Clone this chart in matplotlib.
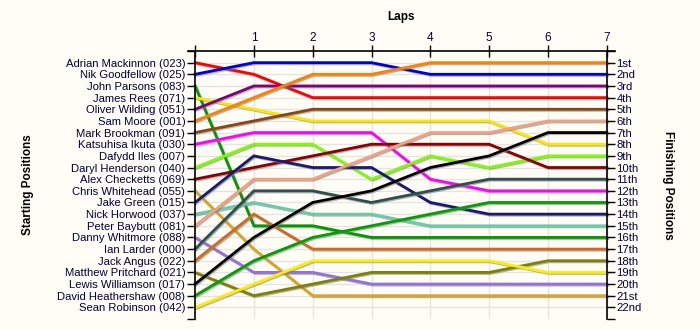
import matplotlib
matplotlib.use("Agg")
import matplotlib.pyplot as plt
import matplotlib.patheffects as pe
import numpy as np

plt.rcParams['font.family'] = ['Liberation Sans', 'DejaVu Sans']

laps = [0, 1, 2, 3, 4, 5, 6, 7]

drivers = ['Adrian Mackinnon (023)', 'Nik Goodfellow (025)', 'John Parsons (083)',
           'James Rees (071)', 'Oliver Wilding (051)', 'Sam Moore (001)',
           'Mark Brookman (091)', 'Katsuhisa Ikuta (030)', 'Dafydd Iles (007)',
           'Daryl Henderson (040)', 'Alex Checketts (069)', 'Chris Whitehead (055)',
           'Jake Green (015)', 'Nick Horwood (037)', 'Peter Baybutt (081)',
           'Danny Whitmore (088)', 'Ian Larder (000)', 'Jack Angus (022)',
           'Matthew Pritchard (021)', 'Lewis Williamson (017)',
           'David Heathershaw (008)', 'Sean Robinson (042)']

finish_labels = ['1st', '2nd', '3rd', '4th', '5th', '6th', '7th', '8th', '9th', '10th',
                 '11th', '12th', '13th', '14th', '15th', '16th', '17th', '18th', '19th',
                 '20th', '21st', '22nd']

# race position of each driver at the end of every lap (None = no lap recorded)
positions = [
    [1, 2, 4, 4, 4, 4, 4, 4],
    [2, 1, 1, 1, 2, 2, 2, 2],
    [3, 15, 15, 16, 16, 16, 16, 16],
    [4, 5, 6, 6, 6, 6, 8, 8],
    [5, 3, 3, 3, 3, 3, 3, 3],
    [6, 4, 2, 2, 1, 1, 1, 1],
    [7, 6, 5, 5, 5, 5, 5, 5],
    [8, 7, 7, 7, 11, 12, 12, 12],
    None,
    [10, 8, 8, 11, 9, 10, 9, 9],
    [11, 10, 9, 8, 8, 8, 10, 10],
    [12, 17, 21, 21, 21, 21, 21, 21],
    [13, 9, 10, 10, 13, 14, 14, 14],
    [14, 13, 14, 14, 15, 15, 15, 15],
    [15, 11, 11, 9, 7, 7, 6, 6],
    [16, 19, 19, 20, 20, 20, 20, 20],
    [17, 12, 12, 13, 12, 11, 11, 11],
    [18, 14, 17, 17, 17, 17, 17, 17],
    [19, 21, 20, 19, 19, 19, 18, 18],
    [20, 16, 13, 12, 10, 9, 7, 7],
    [21, 18, 16, 15, 14, 13, 13, 13],
    [22, 20, 18, 18, 18, 18, 19, 19],
]

colors = ['#ff0000', '#0000dd', '#009a00', '#ffe600', '#800080', '#ff8000',
          '#8b4513', '#ff00ff', '#ffffff', '#7cfc00', '#8b0000', '#daa520',
          '#191970', '#66cdaa', '#f4a080', '#9370db', '#2f4f4f', '#d2691e',
          '#808000', '#000000', '#00a000', '#ffee00']

bg = '#fffdf5'
txt = '#000040'

fig = plt.figure(figsize=(7, 3.3), dpi=100, facecolor=bg)
ax = fig.add_axes([188/700, 1-319/330, 427/700, 268/330])
ax.set_facecolor(bg)

for x in laps[1:]:
    ax.axvline(x, color='#e4e4e4', lw=1, zorder=0)
for y in range(1, 23):
    ax.axhline(y, color='#e4e4e4', lw=1, zorder=0)

shadow = [pe.SimpleLineShadow(offset=(0.8, -0.8), shadow_color='gray', alpha=0.6), pe.Normal()]
for pos, c in zip(positions, colors):
    if pos is None:
        continue
    ax.plot(laps, pos, color=c, lw=2.0, solid_joinstyle='miter', path_effects=shadow, zorder=2)

ax.set_xlim(-0.12, 7.14)
ax.set_ylim(23, 0)

ax.spines['bottom'].set_visible(False)
ax.spines['right'].set_visible(False)
ax.spines['left'].set_position(('data', 0))
for s in ['left', 'top']:
    ax.spines[s].set_linewidth(1.2)
    ax.spines[s].set_color('black')

ax.xaxis.tick_top()
ax.set_xticks(laps)
ax.set_xticklabels([''] + [str(l) for l in laps[1:]], fontsize=8.5, color=txt)
ax.tick_params(axis='x', direction='inout', length=8, width=1, pad=1)

ax.set_yticks(range(0, 24))
ax.set_yticklabels([''] + drivers + [''], fontsize=8.1, color=txt)
ax.tick_params(axis='y', direction='out', length=6, width=1, pad=1)

# finishing positions on a twin axis whose spine sits on the last lap
ax2 = ax.twinx()
ax2.set_ylim(23, 0)
for s in ['left', 'top', 'bottom']:
    ax2.spines[s].set_visible(False)
ax2.spines['right'].set_position(('data', 7))
ax2.spines['right'].set_linewidth(1.2)
ax2.set_yticks(range(0, 24))
ax2.set_yticklabels([''] + finish_labels + [''], fontsize=8.1, color=txt)
ax2.tick_params(axis='y', direction='out', length=6, width=1, pad=1)

fig.text(401/700, 1-17/330, 'Laps', ha='center', va='center', fontsize=8.5, fontweight='bold')
fig.text(28/700, 1-185/330, 'Starting Positions', ha='center', va='center', rotation=90,
         fontsize=8.5, fontweight='bold')
fig.text(668/700, 1-185/330, 'Finishing Positions', ha='center', va='center', rotation=-90,
         fontsize=8.5, fontweight='bold')

fig.savefig('out.png', dpi=100, facecolor=bg)
